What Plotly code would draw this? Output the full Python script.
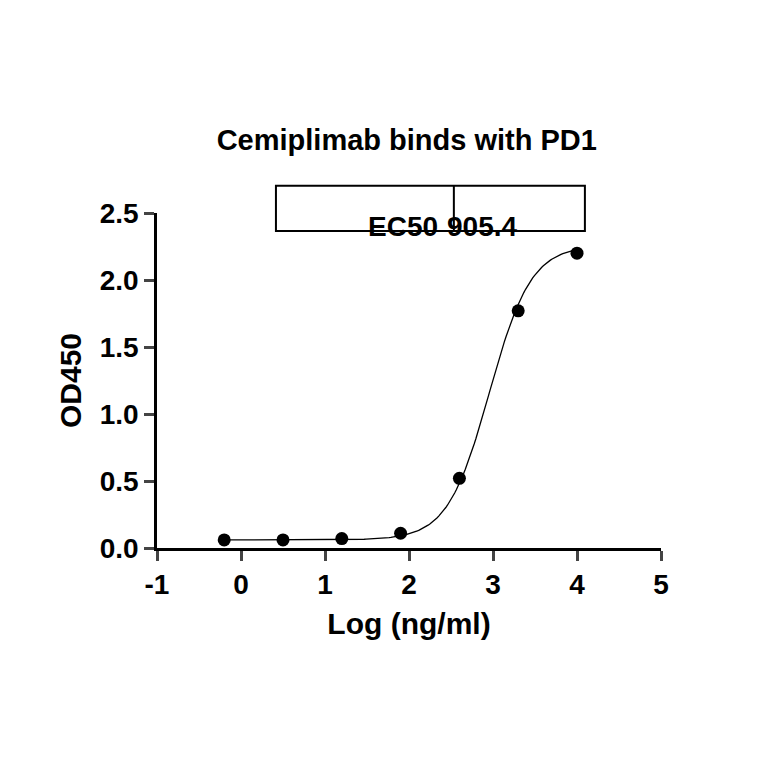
import numpy as np
import plotly.graph_objects as go

# measured points
log_conc = [-0.2, 0.5, 1.2, 1.9, 2.6, 3.3, 4.0]
od450 = [0.06, 0.06, 0.07, 0.11, 0.52, 1.77, 2.20]

# 4PL fit parameters (from the reported EC50)
ec50 = 905.4
bottom, top, hill = 0.06, 2.26, 1.75

xs = np.linspace(-0.2, 4.0, 200)
fit = bottom + (top - bottom) / (1 + 10 ** ((np.log10(ec50) - xs) * hill))

fig = go.Figure()
fig.add_trace(go.Scatter(x=xs, y=fit, mode="lines", line=dict(color="black", width=1.3),
                         showlegend=False, hoverinfo="skip", cliponaxis=False))
fig.add_trace(go.Scatter(x=log_conc, y=od450, mode="markers", cliponaxis=False,
                         marker=dict(color="black", size=13), showlegend=False))

# EC50 box (paper coords so it is not clipped)
fig.add_shape(type="rect", x0=0.236, x1=0.849, y0=0.946, y1=1.081, xref="paper", yref="paper",
              line=dict(color="black", width=2))
fig.add_shape(type="line", x0=0.589, x1=0.589, y0=0.946, y1=1.081, xref="paper", yref="paper",
              line=dict(color="black", width=2))
fig.add_annotation(x=0.562, y=1.013, xref="paper", yref="paper", text="<b>EC50</b>",
                   showarrow=False, xanchor="right", font=dict(size=28, color="black"))
fig.add_annotation(x=0.719, y=1.013, xref="paper", yref="paper", text="<b>905.4</b>",
                   showarrow=False, font=dict(size=28, color="black"))

font = "Liberation Sans, Arial"
fig.update_layout(
    width=764, height=764, plot_bgcolor="white", paper_bgcolor="white",
    margin=dict(l=149, r=111, t=205, b=224),
    font=dict(family=font, color="black"),
    title=dict(text="<b>Cemiplimab binds with PD1</b>", x=0.522, xanchor="center",
               y=0.827, yanchor="middle", font=dict(size=29)),
)
fig.update_xaxes(range=[-1, 5], tickvals=[-1, 0, 1, 2, 3, 4, 5],
                 ticktext=["<b>-1</b>", "<b>0</b>", "<b>1</b>", "<b>2</b>", "<b>3</b>", "<b>4</b>", "<b>5</b>"],
                 showgrid=False, zeroline=False, showline=True, linecolor="black", linewidth=2.5,
                 ticks="outside", ticklen=10, tickwidth=2.5, tickfont=dict(size=28),
                 title=dict(text="<b>Log (ng/ml)</b>", font=dict(size=30), standoff=14))
fig.update_yaxes(range=[0, 2.5], tickvals=[0, 0.5, 1, 1.5, 2, 2.5],
                 ticktext=["<b>0.0</b>", "<b>0.5</b>", "<b>1.0</b>", "<b>1.5</b>", "<b>2.0</b>", "<b>2.5</b>"],
                 showgrid=False, zeroline=False, showline=True, linecolor="black", linewidth=2.5,
                 ticks="outside", ticklen=10, tickwidth=2.5, tickfont=dict(size=28),
                 title=dict(text="<b>OD450</b>", font=dict(size=30), standoff=10))

fig.write_html("out.html")
